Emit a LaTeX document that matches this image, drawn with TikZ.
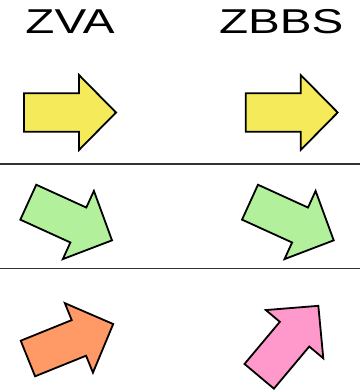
\documentclass[tikz,border=0pt]{standalone}
\usepackage{fontspec}
\setmainfont{Liberation Sans}
\usepackage{graphicx}
\definecolor{arrowyellow}{RGB}{245,235,90}
\definecolor{arrowgreen}{RGB}{178,240,155}
\definecolor{arroworange}{RGB}{255,154,102}
\definecolor{arrowpink}{RGB}{255,153,204}
\definecolor{rulegray}{RGB}{50,50,50}
\tikzset{
  blockarrow/.style={draw=black, line width=1.8pt, line join=miter},
  heading/.style={anchor=base, inner sep=0pt, font=\fontsize{34.5}{40}\selectfont},
  separator/.style={draw=rulegray, line width=1.3pt},
}
% block arrow: tail centred at the origin, pointing along +x
\newcommand{\blockarrowpath}{(0,19.2) -- (55,19.2) -- (55,37.5) -- (92,0) -- (55,-37.5) -- (55,-19.2) -- (0,-19.2) -- cycle}
\begin{document}
\begin{tikzpicture}[x=1pt, y=-1pt]
  \useasboundingbox (0,0) rectangle (360,390);

  % column headings
  \node[heading] (zva) at (70,34) {\scalebox{1.38}[1]{ZVA}};
  \node[heading] (zbbs) at (281.3,34) {\scalebox{1.38}[1]{ZBBS}};

  % row separators
  \draw[separator] (0,164) -- (360,164);
  \draw[separator] (0,268.3) -- (360,268.3);

  % first row: both arrows point straight ahead
  \filldraw[blockarrow, fill=arrowyellow, shift={(24,112.5)}] \blockarrowpath;
  \filldraw[blockarrow, fill=arrowyellow, shift={(245.7,112.5)}] \blockarrowpath;

  % second row: both arrows tilted downwards
  \filldraw[blockarrow, fill=arrowgreen, shift={(28.3,202.2)}, rotate=-24.5] \blockarrowpath;
  \filldraw[blockarrow, fill=arrowgreen, shift={(250,202.2)}, rotate=-24.5] \blockarrowpath;

  % third row: arrows tilted upwards by different amounts
  \filldraw[blockarrow, fill=arroworange, shift={(27.9,358.5)}, rotate=22] \blockarrowpath;
  \filldraw[blockarrow, fill=arrowpink, shift={(259.2,376.3)}, rotate=50] \blockarrowpath;
\end{tikzpicture}
\end{document}
